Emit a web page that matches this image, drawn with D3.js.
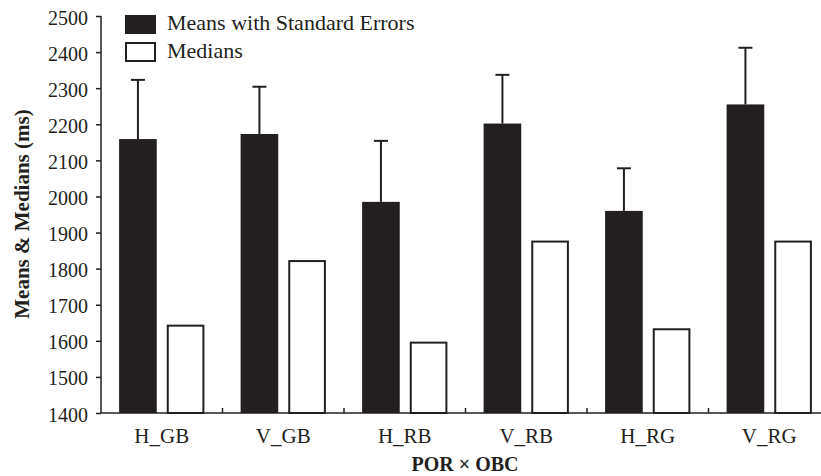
<!DOCTYPE html>
<html>
<head>
<meta charset="utf-8">
<script src="https://cdn.jsdelivr.net/npm/d3@7"></script>
<style>
  body { margin: 0; background: #fff; }
  svg { display: block; font-family: "Liberation Serif", "Times New Roman", serif; }
</style>
</head>
<body>
<div id="chart"></div>
<script>
// data
const categories = ["H_GB", "V_GB", "H_RB", "V_RB", "H_RG", "V_RG"];
const means = [2159, 2173, 1985, 2202, 1960, 2255];
const stdErrors = [164, 131, 169, 135, 118, 157];
const medians = [1642, 1821, 1595, 1875, 1632, 1875];
const yTicks = [1400, 1500, 1600, 1700, 1800, 1900, 2000, 2100, 2200, 2300, 2400, 2500];

const width = 821, height = 476;
const ink = "#231f20";

const svg = d3.select("#chart").append("svg")
    .attr("width", width)
    .attr("height", height);

const x = d3.scaleBand().domain(categories).range([101, 830]);
const y = d3.scaleLinear().domain([1400, 2500]).range([413, 16]);

// inner bands: mean bar + median bar
const inner = d3.scaleBand().domain(["mean", "median"])
    .range([0, x.bandwidth()])
    .paddingInner(0.21)
    .paddingOuter(0.38);

// error bars (behind means)
const err = svg.append("g");
categories.forEach((c, i) => {
  const cx = x(c) + inner("mean") + inner.bandwidth() / 2;
  err.append("line")
      .attr("x1", cx).attr("x2", cx)
      .attr("y1", y(means[i])).attr("y2", y(means[i] + stdErrors[i]))
      .attr("stroke", ink).attr("stroke-width", 2);
  err.append("line")
      .attr("x1", cx - 7).attr("x2", cx + 7)
      .attr("y1", y(means[i] + stdErrors[i])).attr("y2", y(means[i] + stdErrors[i]))
      .attr("stroke", ink).attr("stroke-width", 2);
});

svg.append("g").selectAll("rect")
  .data(means)
  .join("rect")
    .attr("x", (d, i) => x(categories[i]) + inner("mean"))
    .attr("y", d => y(d))
    .attr("width", inner.bandwidth())
    .attr("height", d => y(1400) - y(d))
    .attr("fill", ink);

svg.append("g").selectAll("rect")
  .data(medians)
  .join("rect")
    .attr("x", (d, i) => x(categories[i]) + inner("median") + 1)
    .attr("y", d => y(d))
    .attr("width", inner.bandwidth() - 2)
    .attr("height", d => y(1400) - y(d))
    .attr("fill", "#fff")
    .attr("stroke", ink)
    .attr("stroke-width", 2);

// y axis
const yAxis = svg.append("g")
    .attr("transform", "translate(101,0)")
    .call(d3.axisLeft(y).tickValues(yTicks).tickSize(5).tickPadding(8).tickFormat(d3.format("d")));
yAxis.select(".domain").attr("d", "M0,16V413").attr("stroke", ink).attr("stroke-width", 1.5);
yAxis.selectAll(".tick line").attr("stroke", ink).attr("stroke-width", 1.5);
yAxis.selectAll("text")
    .attr("fill", ink)
    .attr("dy", "0.4em")
    .style("font-size", "20px")
    .style("font-family", "Liberation Serif, serif");

// x axis: inward ticks on category boundaries
const xAxis = svg.append("g").attr("transform", "translate(0,413)");
xAxis.append("line")
    .attr("x1", 101).attr("x2", 830)
    .attr("stroke", ink).attr("stroke-width", 1.5);
xAxis.selectAll(".sep")
  .data(categories.slice(1))
  .join("line")
    .attr("x1", d => x(d)).attr("x2", d => x(d))
    .attr("y1", 0).attr("y2", -5)
    .attr("stroke", ink).attr("stroke-width", 1.5);
xAxis.selectAll(".lbl")
  .data(categories)
  .join("text")
    .attr("x", d => x(d) + x.bandwidth() / 2)
    .attr("y", 30)
    .attr("text-anchor", "middle")
    .attr("fill", ink)
    .style("font-size", "21px")
    .text(d => d);

// axis titles
svg.append("text")
    .attr("x", 465).attr("y", 471)
    .attr("text-anchor", "middle")
    .attr("fill", ink)
    .style("font-size", "20px")
    .style("font-weight", "bold")
    .text("POR × OBC");

svg.append("text")
    .attr("transform", "translate(29,214) rotate(-90)")
    .attr("text-anchor", "middle")
    .attr("fill", ink)
    .style("font-size", "21px")
    .style("font-weight", "bold")
    .text("Means & Medians (ms)");

// legend
const legend = svg.append("g").attr("transform", "translate(125,15)");
legend.append("rect")
    .attr("width", 31).attr("height", 19)
    .attr("fill", ink);
legend.append("rect")
    .attr("x", 1).attr("y", 28)
    .attr("width", 29).attr("height", 18)
    .attr("fill", "#fff").attr("stroke", ink).attr("stroke-width", 2);
legend.append("text")
    .attr("x", 42).attr("y", 15)
    .attr("fill", ink)
    .style("font-size", "22px")
    .text("Means with Standard Errors");
legend.append("text")
    .attr("x", 42).attr("y", 43)
    .attr("fill", ink)
    .style("font-size", "22px")
    .text("Medians");
</script>
</body>
</html>
